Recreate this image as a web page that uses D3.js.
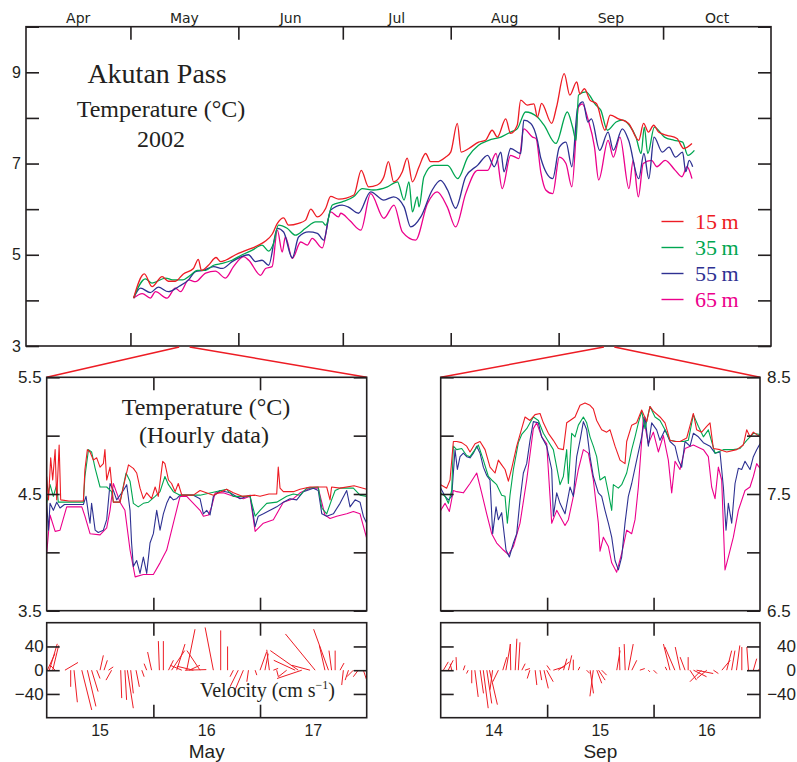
<!DOCTYPE html>
<html>
<head>
<meta charset="utf-8">
<script src="https://cdn.jsdelivr.net/npm/d3@7"></script>
<style>
  body { margin: 0; background: #fff; }
</style>
</head>
<body>
<div id="chart"></div>
<script>
/**
 * CONSTANTS AND GLOBALS
 * */
const width = 797,
  height = 762;

const ink = "#231f20";
const tickLen = 13;
const serif = "'Liberation Serif', 'Times New Roman', serif";

/**
 * DATA
 * */
const months = ["Apr", "May", "Jun", "Jul", "Aug", "Sep", "Oct"];
const depths = ["15", "35", "55", "65"];
const depthColors = ["#ed1c24", "#00a651", "#2e3192", "#ec008c"];

// daily-ish series, [day of year 2002, temperature °C]
const daily15 = [[121.9,4.05],[125.0,4.58],[127.2,4.30],[130.1,4.52],[131.9,4.42],[133.9,4.42],[136.2,4.58],[139.1,4.70],[140.5,4.90],[141.4,4.66],[143.4,4.77],[145.6,4.94],[146.9,4.85],[148.3,4.88],[151.2,5.00],[154.0,5.09],[157.8,5.21],[159.8,5.30],[161.7,5.45],[163.2,5.69],[165.0,5.81],[166.4,5.65],[169.3,5.69],[171.3,5.76],[172.8,6.00],[174.7,5.83],[177.1,6.02],[178.5,6.28],[180.8,6.22],[185.2,6.31],[187.3,6.85],[189.4,6.49],[191.9,6.53],[193.8,6.71],[195.1,7.04],[196.6,6.60],[199.1,6.82],[200.5,7.12],[202.0,6.60],[203.9,6.93],[205.8,7.22],[207.2,7.04],[209.1,7.04],[211.5,7.14],[213.0,7.25],[214.9,7.88],[216.0,7.25],[218.2,7.33],[221.0,7.47],[223.0,7.51],[224.9,7.73],[226.4,7.58],[228.8,7.98],[230.2,7.66],[232.1,7.84],[233.1,8.39],[235.0,8.28],[236.9,8.31],[237.9,8.02],[239.1,8.32],[242.0,7.88],[243.4,8.24],[245.6,8.97],[247.2,8.50],[249.2,8.79],[250.1,8.53],[251.4,8.64],[253.0,8.39],[254.9,8.31],[257.3,7.73],[258.8,8.06],[261.2,7.98],[264.1,7.88],[267.0,7.51],[268.4,7.88],[269.8,7.69],[271.3,7.84],[272.7,7.69],[275.1,7.62],[278.0,7.55],[279.9,7.33],[282.3,7.44]];
const daily35 = [[121.9,4.05],[125.3,4.47],[127.2,4.38],[131.1,4.49],[133.1,4.45],[136.0,4.45],[138.2,4.55],[140.2,4.66],[142.6,4.66],[144.9,4.77],[147.4,4.81],[150.2,4.88],[153.1,5.00],[156.0,5.10],[158.8,5.21],[160.7,5.08],[162.1,5.25],[163.5,5.65],[166.0,5.58],[168.4,5.43],[171.3,5.58],[174.2,5.72],[176.1,5.72],[177.1,5.65],[179.0,6.09],[181.8,6.16],[185.1,6.27],[187.6,6.45],[190.8,6.42],[194.8,6.49],[197.7,6.60],[199.6,6.20],[201.0,6.60],[202.0,5.94],[203.4,6.27],[203.9,6.05],[205.3,6.71],[208.1,6.96],[212.1,6.96],[215.0,6.67],[217.9,7.14],[221.0,7.40],[223.9,7.51],[227.4,7.58],[230.2,7.69],[232.1,7.76],[234.5,8.13],[237.9,8.02],[239.8,7.84],[243.2,7.44],[246.5,8.13],[248.0,7.80],[249.0,7.51],[249.7,8.50],[251.8,8.57],[254.7,8.28],[256.1,8.17],[258.0,7.73],[260.5,7.91],[262.3,7.95],[264.3,7.84],[266.2,7.58],[267.7,7.22],[268.6,7.80],[269.6,7.22],[271.5,7.80],[274.4,7.58],[277.2,7.51],[279.6,7.47],[281.1,7.18],[283.0,7.29]];
const daily55 = [[121.9,4.05],[123.9,4.27],[126.7,4.17],[129.0,4.29],[131.9,4.19],[134.8,4.30],[137.7,4.45],[139.7,4.63],[142.0,4.66],[144.9,4.74],[147.4,4.70],[150.2,4.85],[152.6,4.95],[154.9,5.00],[156.9,4.85],[158.8,4.88],[160.7,4.77],[163.2,5.58],[165.0,5.50],[167.5,4.93],[169.3,5.39],[172.2,5.50],[174.7,5.47],[176.5,5.32],[178.5,5.98],[181.8,6.09],[183.5,6.05],[186.5,5.91],[190.0,6.38],[193.8,6.20],[196.6,6.27],[199.6,6.05],[201.5,5.61],[204.4,5.83],[207.7,6.42],[210.1,6.63],[212.1,6.42],[214.4,6.02],[217.3,6.71],[220.7,6.96],[223.6,7.18],[225.5,6.93],[227.4,7.25],[228.3,6.82],[230.2,7.33],[233.1,7.22],[234.0,7.95],[236.0,7.88],[237.9,7.51],[238.9,7.11],[242.3,6.67],[244.2,7.36],[246.1,7.47],[247.8,6.93],[249.5,8.24],[251.0,8.35],[252.4,7.91],[253.4,7.98],[255.8,7.29],[258.2,7.69],[259.7,7.29],[262.3,7.76],[264.1,7.51],[267.0,6.67],[268.5,7.22],[269.9,6.67],[271.4,7.58],[273.8,7.25],[275.7,7.36],[277.6,7.14],[279.6,7.25],[280.5,6.82],[281.5,7.07],[282.5,6.93]];
const daily65 = [[121.9,4.05],[124.4,4.15],[126.7,4.05],[128.2,4.19],[131.5,4.05],[133.9,4.27],[135.4,4.19],[137.7,4.45],[139.7,4.41],[142.6,4.60],[145.4,4.64],[148.3,4.49],[150.6,4.74],[153.5,4.96],[155.0,4.88],[158.4,4.55],[159.8,4.70],[161.7,4.74],[163.2,5.54],[164.6,5.06],[165.5,5.39],[167.5,4.92],[169.9,5.28],[171.8,5.21],[173.2,5.36],[176.1,5.15],[178.5,5.94],[180.8,5.83],[181.4,5.91],[184.0,5.75],[187.2,5.54],[190.0,6.34],[193.8,5.80],[196.7,6.09],[199.1,5.50],[202.9,5.32],[206.3,6.12],[209.1,6.38],[212.0,6.05],[214.4,5.61],[217.3,6.34],[220.7,6.85],[223.6,6.85],[226.0,7.22],[227.8,6.45],[230.2,7.18],[232.6,7.11],[234.0,7.76],[236.5,7.58],[237.5,7.55],[238.9,6.80],[240.3,6.42],[242.3,6.34],[244.2,7.14],[246.1,7.00],[247.8,6.49],[249.7,8.24],[250.8,8.31],[252.4,7.98],[254.3,7.36],[255.5,6.64],[258.2,7.51],[259.7,7.14],[261.6,7.58],[264.2,6.45],[265.4,7.07],[266.9,6.27],[268.3,7.00],[270.7,7.07],[272.2,6.93],[274.6,7.07],[277.5,6.85],[279.4,6.71],[280.9,6.93],[282.3,6.67]];

// hourly data, [hours after 00:00 on May 15, temperature °C]
const may15 = [[0,4.65],[0.4,4.45],[0.9,4.81],[1.35,4.62],[1.9,4.88],[2.25,4.45],[2.8,4.92],[3.15,4.45],[5,4.44],[8.25,4.44],[8.6,4.71],[9.15,4.88],[9.75,4.86],[10.5,4.79],[11.25,4.81],[12,4.73],[12.75,4.76],[13.1,4.88],[13.5,4.62],[14.25,4.73],[15,4.43],[16.5,4.43],[17.6,4.62],[18.4,4.75],[19.5,4.72],[20.25,4.68],[21,4.55],[21.75,4.46],[22.5,4.51],[23.6,4.46],[24.4,4.56],[25.1,4.48],[26.1,4.78],[26.6,4.76],[27.4,4.62],[28.1,4.59],[28.9,4.52],[29.6,4.59],[30.4,4.49],[33,4.49],[34.5,4.53],[37.5,4.49],[40.5,4.54],[42,4.51],[44,4.48],[46.9,4.49],[48,4.48],[50,4.50],[51.75,4.50],[52.1,4.73],[52.5,4.55],[53.25,4.52],[55.5,4.52],[57,4.54],[59.25,4.56],[61.1,4.56],[63,4.56],[63.75,4.45],[64.1,4.56],[66,4.55],[69.15,4.57],[72,4.54]];
const may35 = [[0,4.42],[0.75,4.58],[1.5,4.48],[2.25,4.58],[2.6,4.43],[4,4.43],[8.25,4.43],[8.6,4.65],[9.4,4.88],[10.1,4.86],[10.9,4.72],[12,4.56],[13.5,4.56],[14.6,4.52],[15,4.43],[16.5,4.43],[17.85,4.68],[18.75,4.61],[19.5,4.42],[20.6,4.39],[21.75,4.42],[22.9,4.43],[24.4,4.48],[25.5,4.52],[26.6,4.65],[27.4,4.58],[28.5,4.52],[30,4.49],[34.5,4.49],[40.5,4.54],[42,4.48],[45.75,4.48],[46.9,4.31],[48,4.36],[49.5,4.42],[51.75,4.43],[54,4.48],[55.5,4.50],[57,4.49],[58.5,4.55],[61.1,4.56],[61.9,4.38],[63,4.33],[64.1,4.45],[64.9,4.53],[66,4.55],[69,4.55],[70.5,4.49],[72,4.48]];
const may55 = [[0,4.42],[0.4,4.19],[0.75,4.42],[1.5,4.36],[2.25,4.43],[3,4.38],[4,4.41],[8.25,4.41],[8.85,4.48],[9.4,4.33],[9.75,4.25],[10.1,4.42],[10.9,4.19],[11.6,4.17],[12.75,4.19],[13.5,4.28],[14.25,4.59],[15,4.53],[15.75,4.45],[17.25,4.53],[18,4.58],[18.75,4.36],[19.1,4.08],[19.5,3.88],[20.25,3.93],[21,3.82],[21.75,3.96],[22.5,3.82],[23.25,4.08],[24,4.16],[24.75,4.36],[25.5,4.19],[26.25,4.33],[27,4.42],[27.75,4.48],[28.5,4.45],[29.25,4.46],[30,4.49],[33,4.49],[34.5,4.46],[35.25,4.33],[36,4.36],[36.75,4.32],[37.5,4.48],[39,4.53],[41.25,4.51],[43.5,4.46],[45.75,4.49],[46.9,4.22],[47.6,4.31],[48.75,4.33],[50.25,4.36],[51.75,4.39],[53.25,4.43],[54.75,4.46],[56.25,4.45],[57.75,4.52],[60,4.55],[61.1,4.53],[61.9,4.33],[63,4.31],[64.5,4.33],[66,4.42],[67.5,4.53],[68.25,4.39],[69.4,4.45],[70.5,4.43],[71.25,4.31],[72,4.25]];
const may65 = [[0,3.99],[0.75,4.32],[1.9,4.18],[3,4.19],[4.5,4.39],[7.9,4.39],[8.6,4.31],[9.75,4.16],[12,4.15],[13.5,4.21],[14.25,4.36],[15,4.59],[15.75,4.51],[16.5,4.43],[17.6,4.36],[18.75,4.02],[19.9,3.79],[21.75,3.81],[24,3.81],[25.5,3.91],[27,4.02],[28.5,4.25],[30,4.48],[31.5,4.48],[34.5,4.36],[35.25,4.31],[36.4,4.32],[37.1,4.39],[37.9,4.51],[39.75,4.51],[42,4.48],[44.25,4.46],[45.75,4.48],[46.9,4.18],[48.75,4.25],[51,4.28],[53.25,4.43],[55.5,4.46],[57,4.51],[59.25,4.55],[61.1,4.55],[62.6,4.32],[63.75,4.29],[65.25,4.31],[67.5,4.33],[69,4.35],[70.5,4.33],[72,4.12]];

// hourly data, [hours after 00:00 on Sep 14, temperature °C]
const sep15 = [[0,7.58],[1.35,7.55],[2.1,7.62],[2.86,7.95],[3.61,7.95],[4.74,7.94],[5.86,7.91],[6.61,7.86],[7.74,7.93],[8.87,7.95],[10.0,7.88],[11.12,7.73],[12.25,7.68],[13.0,7.79],[13.75,7.75],[14.51,7.71],[15.26,7.61],[16.01,7.72],[17.14,7.91],[18.26,8.06],[19.02,8.16],[20.14,8.13],[21.27,8.18],[22.4,8.19],[23.15,8.11],[24.28,8.02],[25.4,7.96],[26.53,7.89],[27.66,7.88],[28.41,8.11],[29.16,8.13],[30.29,8.16],[31.42,8.26],[32.54,8.28],[33.67,8.26],[34.42,8.23],[35.17,8.13],[36.3,8.05],[37.43,8.03],[38.18,8.05],[39.31,7.91],[40.44,7.79],[41.56,7.76],[41.94,7.95],[43.07,8.09],[44.19,8.11],[45.32,8.22],[46.45,8.12],[47.2,8.25],[47.95,8.21],[49.45,8.16],[50.58,8.11],[51.71,7.96],[52.84,7.95],[53.96,7.95],[55.47,7.98],[56.97,8.19],[57.72,8.05],[58.85,8.03],[59.98,8.08],[60.73,8.11],[61.48,7.89],[62.98,7.88],[64.49,7.86],[66.74,7.88],[68.24,7.92],[69.0,8.05],[69.75,7.99],[70.5,8.03],[72,7.99]];
const sep35 = [[0,7.51],[0.98,7.48],[1.73,7.42],[2.48,7.53],[2.86,7.91],[3.61,7.88],[4.74,7.89],[5.86,7.83],[6.61,7.82],[7.74,7.88],[8.49,7.92],[9.62,7.79],[10.75,7.65],[11.5,7.62],[12.63,7.58],[13.75,7.49],[14.51,7.48],[15.03,7.25],[15.63,7.49],[16.39,7.71],[17.51,7.94],[18.26,8.01],[19.39,8.06],[20.89,8.16],[22.02,8.13],[23.15,8.02],[24.28,7.95],[25.4,7.88],[26.91,7.58],[27.66,7.65],[28.41,7.88],[28.79,7.59],[29.54,8.02],[30.29,7.99],[31.04,8.09],[32.17,8.16],[32.92,8.11],[33.67,7.99],[34.42,7.91],[35.17,7.82],[35.93,7.62],[37.05,7.65],[37.81,7.51],[38.56,7.36],[38.93,7.58],[40.06,7.55],[40.81,7.58],[41.94,7.68],[43.07,7.88],[43.82,7.99],[44.57,8.11],[45.32,8.21],[46.07,8.06],[47.2,8.25],[48.33,8.16],[49.45,8.13],[50.58,8.05],[51.71,7.96],[53.21,7.95],[54.72,7.95],[55.84,7.96],[56.97,8.18],[58.1,8.08],[59.23,7.99],[60.35,8.05],[61.1,7.95],[61.86,7.85],[63.74,7.88],[65.99,7.88],[67.49,7.89],[69.0,7.96],[70.5,8.02],[72,8.01]];
const sep55 = [[0,7.55],[0.98,7.48],[1.73,7.45],[2.48,7.48],[3.23,7.88],[3.76,7.71],[4.36,7.82],[5.11,7.85],[5.86,7.82],[6.61,7.81],[7.37,7.85],[8.12,7.91],[8.87,7.85],[9.62,7.73],[10.37,7.66],[11.12,7.62],[11.72,7.16],[12.48,7.39],[13.0,7.28],[13.75,7.34],[14.73,7.02],[15.48,6.96],[16.39,7.08],[17.14,7.16],[17.89,7.45],[18.64,7.68],[19.39,7.76],[20.14,7.96],[20.89,8.12],[22.02,8.11],[22.77,7.99],[23.9,7.91],[25.03,7.71],[25.4,7.31],[26.16,7.51],[26.91,7.42],[28.03,7.33],[29.16,7.56],[29.91,7.48],[30.67,7.82],[31.42,7.96],[32.17,8.12],[32.92,8.05],[33.67,7.82],[34.42,7.65],[35.55,7.51],[36.3,7.48],[37.05,7.36],[37.81,7.25],[38.56,7.13],[39.31,6.93],[40.06,6.85],[40.81,6.96],[41.56,7.25],[42.31,7.48],[43.07,7.59],[44.19,7.79],[45.32,7.99],[46.07,8.16],[46.82,7.91],[47.58,8.11],[48.7,8.05],[49.45,7.96],[50.58,8.05],[51.71,7.95],[52.84,7.91],[53.59,7.79],[54.34,7.73],[55.09,7.95],[56.22,7.91],[56.97,8.02],[58.1,7.99],[59.23,7.94],[60.73,7.91],[61.86,7.85],[62.98,7.86],[63.74,7.56],[64.34,7.19],[64.86,7.42],[65.62,7.25],[66.37,7.59],[67.12,7.72],[67.87,7.71],[68.62,7.78],[69.75,7.71],[70.5,7.82],[71.25,7.88],[72,7.93]];
const sep65 = [[0,7.36],[0.98,7.42],[1.95,7.35],[2.86,7.53],[3.61,7.52],[5.11,7.51],[6.61,7.59],[8.12,7.68],[9.24,7.51],[10.37,7.33],[11.5,7.16],[12.63,7.08],[14.13,7.02],[15.26,6.98],[16.39,7.05],[17.89,7.25],[19.39,7.62],[20.89,8.06],[21.65,8.11],[22.77,7.99],[23.9,7.93],[25.03,7.25],[26.16,7.36],[28.03,7.23],[28.79,7.28],[29.91,7.48],[31.04,7.71],[32.17,7.88],[33.3,7.85],[34.42,7.62],[35.55,7.25],[35.93,7.01],[36.68,7.13],[37.81,7.05],[38.56,6.91],[39.68,6.83],[40.81,6.99],[41.94,7.19],[43.07,7.16],[43.82,7.28],[44.57,7.56],[45.7,8.16],[46.82,7.93],[47.95,8.03],[49.08,7.86],[50.21,8.0],[51.33,7.79],[52.09,7.51],[52.84,7.78],[53.96,7.71],[55.09,7.89],[56.97,7.92],[59.23,7.88],[60.35,7.82],[61.1,7.56],[61.86,7.46],[62.61,7.73],[63.36,7.62],[64.11,6.85],[64.86,6.96],[65.99,7.13],[67.12,7.36],[68.62,7.53],[69.75,7.56],[70.5,7.65],[71.25,7.76],[72,7.72]];

// velocity sticks, [hour, east cm/s, north cm/s]
const velMay = [[0.15,12.8,27.8],[0.6,13.3,44.4],[1.35,10,41.7],[1.9,-8,8],[4.1,22,13],[5.4,0,-28],[6.15,5.6,-54],[7.9,16.7,-67],[9.15,14.4,-61],[10.1,11,-36],[11.25,5.6,-14],[12,5.6,25],[12.9,5.6,16.7],[13.9,8,5.5],[14.6,-9.4,-16.7],[16.65,1.7,-47],[17.6,2.8,-50],[18.15,10,-64],[18.9,4.4,-39],[20.1,5.6,-28],[21.4,3.9,-11],[22.5,-4.4,11],[23.6,-6.7,30.6],[25.35,-1.7,49],[26.25,0,49],[27.4,8.3,16.7],[28.1,22,33],[29.25,14,44],[30.4,-19.4,8.3],[31.1,36,1],[31.5,14,69],[32.1,17.8,8.3],[33,-27.8,6.7],[34.5,-22,33],[37.5,-13.9,72],[39.15,0,67],[40.7,0,40],[42,-5.6,-11],[43.1,-13.9,-28],[44.25,-13.9,-33],[45.4,-2.8,-19.4],[46.9,2.8,-8.3],[48,11,30.6],[49.1,5.6,27.8],[50.1,-4.4,34.4],[51,8,3],[51.75,2.8,-11],[54,-13.9,-11],[55.9,-36,16.7],[56.6,-47,33],[57.4,-41.7,-14],[59.25,-30.6,8.3],[60.4,-50,61],[62.6,-9.4,41.7],[63.4,-25,69],[64.1,-4.4,33],[64.9,0,33],[66,6.7,12],[66.75,-2.8,-25],[67.9,-5.6,-16.7],[69,-11,-11],[70.1,-8.3,-11],[71.25,5.6,-16.7]];
const velSep = [[0.6,8.3,14],[1.7,8.3,16.7],[2.5,-2.8,11],[3.6,-1,22],[5.1,2.8,8],[6.2,-2.8,-5.6],[7,0,-22],[7.7,5.6,-45],[8.9,5.6,-39],[9.6,8.3,-64],[10.4,8.3,-56],[11,13.3,-58],[11.7,-4.4,-33],[13,-9.4,-19.4],[14,6.7,22],[14.7,7.8,44],[15.8,-1,44],[16.8,2.8,53],[17.5,2.8,47],[18.3,5.6,11],[19,8.3,2.8],[20.1,-4.4,-14],[21.3,2.8,-25],[22.4,2.8,-16.7],[23.3,7.2,-30.6],[23.9,11,-19.4],[24.7,-5.6,8],[25.4,19,6],[26.5,19,14],[27.7,5.6,19.4],[28.8,5.6,25],[29.9,0,17.8],[31,2.8,5.6],[32.9,5.6,-5.6],[33.7,5.6,-39],[34.4,-5.6,-44],[35.2,8.3,-22],[35.6,11,-16.7],[36.3,8.3,-8.3],[39.7,5.6,33],[40.4,-1,39],[41.6,-1.7,44],[42.3,8.3,44],[43.1,8.3,16.7],[44.9,8.3,2.8],[46.8,2.8,-2.8],[48,5.6,-5.6],[51,-2.8,5.6],[51.7,-11,44],[52.8,-16.7,39],[54,-8.3,39],[55.1,-8.3,22],[55.8,0,22],[56.2,11,-16.7],[57,22,-11],[57.7,28,-5.6],[58.8,-19.4,-19.4],[60,-16.7,-14],[61.5,8.3,-5.6],[63.4,14,16.7],[64.5,8.3,33],[65.6,5.6,33],[66.7,5.6,41.7],[67.9,0,39],[69.4,-2.8,39],[70.5,5.6,19.4],[71.6,2.8,2.8]];

const dailySeries = [daily15, daily35, daily55, daily65];
const maySeries = [may15, may35, may55, may65];
const sepSeries = [sep15, sep35, sep55, sep65];
const drawOrder = [3, 2, 1, 0]; // 65 m underneath, 15 m on top

/**
 * HELPERS
 * */
const utc = (y, m, d) => new Date(Date.UTC(y, m, d));
const fromDoy = doy => new Date(Date.UTC(2002, 0, 1) + (doy - 1) * 864e5);
const fromHour = start => h => new Date(start.getTime() + h * 36e5);

const svg = d3.select("#chart")
  .append("svg")
  .attr("width", width)
  .attr("height", height)
  .style("font-family", "'Liberation Sans', Arial, sans-serif");

// four-sided axes with ticks pointing in, plus the frame
function drawAxes(box, x, y, xTicks, yTicks, yFmt, labelSide, fontSize) {
  const g = svg.append("g");
  g.append("g").attr("transform", `translate(0,${box.bottom})`)
    .call(d3.axisBottom(x).tickValues(xTicks).tickSize(-tickLen).tickSizeOuter(0).tickFormat(""));
  g.append("g").attr("transform", `translate(0,${box.top})`)
    .call(d3.axisTop(x).tickValues(xTicks).tickSize(-tickLen).tickSizeOuter(0).tickFormat(""));
  g.append("g").attr("class", "yl").attr("transform", `translate(${box.left},0)`)
    .call(d3.axisLeft(y).tickValues(yTicks).tickSize(-tickLen).tickSizeOuter(0).tickPadding(5)
      .tickFormat(labelSide === "left" ? yFmt : ""));
  g.append("g").attr("class", "yr").attr("transform", `translate(${box.right},0)`)
    .call(d3.axisRight(y).tickValues(yTicks).tickSize(-tickLen).tickSizeOuter(0).tickPadding(7)
      .tickFormat(labelSide === "right" ? yFmt : ""));
  g.selectAll(".domain").remove();
  g.selectAll("g").attr("font-family", null).attr("font-size", null);
  g.selectAll(".tick line").attr("stroke", ink).attr("stroke-width", 1.6);
  g.selectAll(".tick text").attr("fill", ink).attr("font-size", fontSize);
  g.append("rect")
    .attr("x", box.left).attr("y", box.top)
    .attr("width", box.right - box.left).attr("height", box.bottom - box.top)
    .attr("fill", "none").attr("stroke", ink).attr("stroke-width", 1.6);
  return g;
}

function clip(id, box) {
  svg.append("clipPath").attr("id", id)
    .append("rect")
    .attr("x", box.left).attr("y", box.top)
    .attr("width", box.right - box.left).attr("height", box.bottom - box.top);
}

/**
 * TOP PANEL: daily temperatures
 * */
const topBox = { left: 26, right: 771, top: 26.7, bottom: 346 };
const xTop = d3.scaleUtc().domain([utc(2002, 3, 1), utc(2002, 10, 1)]).range([topBox.left, topBox.right]);
const yTop = d3.scaleLinear().domain([3, 10]).range([topBox.bottom, topBox.top]);
const monthStarts = d3.utcMonth.range(utc(2002, 4, 1), utc(2002, 10, 1));

drawAxes(topBox, xTop, yTop, monthStarts, d3.range(3, 11), d => (d % 2 === 1 && d < 10 ? d : ""), "left", "16px");

// month names sit in the middle of each month
svg.append("g")
  .selectAll("text")
  .data(months)
  .join("text")
  .attr("x", (d, i) => (xTop(utc(2002, 3 + i, 1)) + xTop(utc(2002, 4 + i, 1))) / 2)
  .attr("y", 22.5)
  .attr("text-anchor", "middle")
  .attr("font-family", "'DejaVu Sans', sans-serif")
  .attr("font-size", "14px")
  .attr("fill", ink)
  .text(d => d);

const lineTop = d3.line()
  .x(d => xTop(fromDoy(d[0])))
  .y(d => yTop(d[1]))
  .curve(d3.curveMonotoneX);

svg.append("g")
  .selectAll("path")
  .data(drawOrder)
  .join("path")
  .attr("d", i => lineTop(dailySeries[i]))
  .attr("fill", "none")
  .attr("stroke", i => depthColors[i])
  .attr("stroke-width", 1.3);

// title block
const title = svg.append("g").attr("fill", ink).attr("font-family", serif).attr("text-anchor", "middle");
title.append("text").attr("x", 157).attr("y", 83).attr("font-size", "28px").text("Akutan Pass");
title.append("text").attr("x", 161).attr("y", 116.5).attr("font-size", "24px").text("Temperature (°C)");
title.append("text").attr("x", 161).attr("y", 146.5).attr("font-size", "24px").text("2002");

// legend
const legend = svg.append("g")
  .selectAll("g")
  .data(depths)
  .join("g")
  .attr("transform", (d, i) => `translate(0,${221.5 + i * 26})`);
legend.append("line")
  .attr("x1", 661.5).attr("x2", 683.5)
  .attr("stroke", (d, i) => depthColors[i])
  .attr("stroke-width", 1.4);
legend.append("text")
  .attr("x", 695).attr("y", 7.5)
  .attr("font-family", serif)
  .attr("font-size", "22px")
  .attr("fill", (d, i) => depthColors[i])
  .text(d => d + "\u2009m");

/**
 * LOWER PANELS: hourly temperatures and current sticks
 * */
const panels = [
  {
    id: "may", start: utc(2002, 4, 15), month: "May", series: maySeries, vel: velMay,
    temp: { left: 46.7, right: 366.7, top: 377.3, bottom: 610.7 },
    vel_box: { left: 46.7, right: 366.7, top: 622.7, bottom: 717.7 },
    yDomain: [3.5, 5.5], side: "left"
  },
  {
    id: "sep", start: utc(2002, 8, 14), month: "Sep", series: sepSeries, vel: velSep,
    temp: { left: 440.7, right: 760, top: 377.3, bottom: 610.7 },
    vel_box: { left: 440.7, right: 760, top: 622.7, bottom: 717.7 },
    yDomain: [6.5, 8.5], side: "right"
  }
];

panels.forEach(p => {
  const end = d3.utcDay.offset(p.start, 3);
  const toDate = fromHour(p.start);
  const x = d3.scaleUtc().domain([p.start, end]).range([p.temp.left, p.temp.right]);
  const y = d3.scaleLinear().domain(p.yDomain).range([p.temp.bottom, p.temp.top]);
  const yV = d3.scaleLinear().domain([-80, 80]).range([p.vel_box.bottom, p.vel_box.top]);
  const dayTicks = d3.utcDay.range(d3.utcDay.offset(p.start, 1), end);
  const lo = p.yDomain[0];

  // zoom lines from the top panel
  svg.append("g")
    .attr("stroke", depthColors[0])
    .attr("stroke-width", 1.5)
    .selectAll("line")
    .data([[p.start, p.temp.left], [end, p.temp.right]])
    .join("line")
    .attr("x1", d => xTop(d[0])).attr("y1", topBox.bottom + 1)
    .attr("x2", d => d[1]).attr("y2", p.temp.top);

  // temperature panel
  clip("clip-" + p.id, p.temp);
  const line = d3.line().x(d => x(toDate(d[0]))).y(d => y(d[1]));
  svg.append("g")
    .attr("clip-path", `url(#clip-${p.id})`)
    .selectAll("path")
    .data(drawOrder)
    .join("path")
    .attr("d", i => line(p.series[i]))
    .attr("fill", "none")
    .attr("stroke", i => depthColors[i])
    .attr("stroke-width", 1.1)
    .attr("stroke-linejoin", "round");

  drawAxes(p.temp, x, y, dayTicks, [lo, lo + 0.5, lo + 1, lo + 1.5, lo + 2],
    d => ((d - lo) % 1 === 0 ? d.toFixed(1) : ""), p.side, "17px");

  // velocity panel
  clip("clipv-" + p.id, p.vel_box);
  const k = Math.abs(yV(1) - yV(0));
  svg.append("g")
    .attr("clip-path", `url(#clipv-${p.id})`)
    .selectAll("line")
    .data(p.vel)
    .join("line")
    .attr("x1", d => x(toDate(d[0])))
    .attr("y1", yV(0))
    .attr("x2", d => x(toDate(d[0])) + d[1] * k)
    .attr("y2", d => yV(d[2]))
    .attr("stroke", depthColors[0])
    .attr("stroke-width", 1);

  const vAx = drawAxes(p.vel_box, x, yV, dayTicks, [-40, 0, 40],
    d => (d < 0 ? "\u2212" + Math.abs(d) : d), p.side, "17px");
  if (p.side === "left") {
    vAx.selectAll(".yl .tick text").attr("x", -3);
  } else {
    vAx.selectAll(".yr .tick text").attr("text-anchor", "end").attr("x", 36);
  }

  // day labels and month name
  svg.append("g")
    .selectAll("text")
    .data(d3.utcDay.range(p.start, end))
    .join("text")
    .attr("x", d => x(d3.utcHour.offset(d, 12)))
    .attr("y", 736)
    .attr("text-anchor", "middle")
    .attr("font-size", "16px")
    .attr("fill", ink)
    .text(d => d.getUTCDate());

  svg.append("text")
    .attr("x", (p.temp.left + p.temp.right) / 2)
    .attr("y", 758)
    .attr("text-anchor", "middle")
    .attr("font-size", "19px")
    .attr("fill", ink)
    .text(p.month);
});

// labels inside the May panels
const sub = svg.append("g").attr("fill", ink).attr("font-family", serif).attr("text-anchor", "middle");
sub.append("text").attr("x", 206).attr("y", 415).attr("font-size", "24px").text("Temperature (°C)");
sub.append("text").attr("x", 204).attr("y", 442.5).attr("font-size", "24px").text("(Hourly data)");

const vel = svg.append("text")
  .attr("x", 200).attr("y", 697)
  .attr("font-family", serif)
  .attr("font-size", "20px")
  .attr("fill", ink)
  .text("Velocity (cm s");
vel.append("tspan").attr("dy", -8).attr("font-size", "12px").text("\u22121");
vel.append("tspan").attr("dy", 8).text(")");
</script>
</body>
</html>
